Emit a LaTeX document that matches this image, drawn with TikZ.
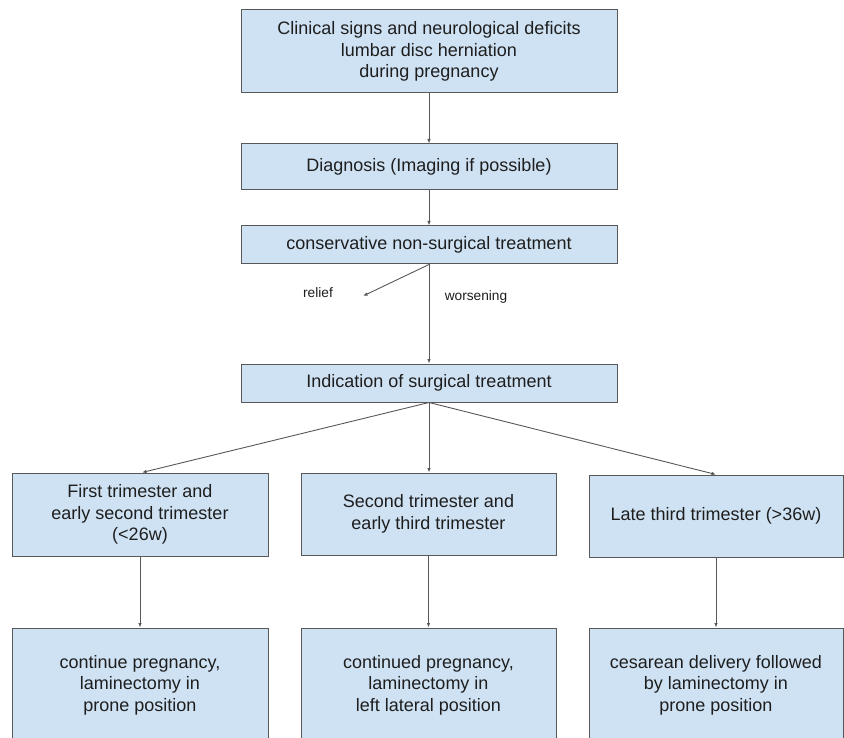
\documentclass[tikz,border=0pt]{standalone}
\usepackage{fontspec}
\setmainfont{Liberation Sans}
\usetikzlibrary{arrows.meta}
\definecolor{boxfill}{RGB}{207,226,243}
\definecolor{boxline}{RGB}{88,88,88}
\definecolor{txt}{RGB}{30,30,30}
\begin{document}
\begin{tikzpicture}[x=1pt,y=-1pt,
  box/.style={draw=boxline, line width=1pt, fill=boxfill, text=txt, align=center, inner sep=0pt,
    font=\fontsize{18}{21.5}\selectfont},
  arr/.style={draw=boxline, line width=0.9pt, -{Latex[length=4.5pt,width=3.5pt]}},
  lab/.style={text=txt, font=\fontsize{13.7}{16}\selectfont}]
\useasboundingbox (0,0) rectangle (844,738);
\fill[white] (0,0) rectangle (844,738);
\clip (0,0) rectangle (844,738);
\node[box, minimum width=376pt, minimum height=83pt] (top) at (429,51.5)
  {Clinical signs and neurological deficits\\lumbar disc herniation\\during pregnancy};
\node[box, minimum width=376pt, minimum height=46pt] (diag) at (429,167)
  {Diagnosis (Imaging if possible)};
\node[box, minimum width=376pt, minimum height=38pt] (cons) at (429,245)
  {conservative non-surgical treatment};
\node[box, minimum width=376pt, minimum height=38pt] (ind) at (429,383)
  {Indication of surgical treatment};
\node[box, minimum width=256pt, minimum height=83pt] (left) at (140,514.5)
  {First trimester and\\early second trimester\\(<26w)};
\node[box, minimum width=255pt, minimum height=82pt] (mid) at (428.5,514)
  {Second trimester and\\early third trimester};
\node[box, minimum width=254pt, minimum height=82pt] (right) at (716,516)
  {Late third trimester (>36w)};
\node[box, minimum width=256pt, minimum height=114pt] (lb) at (140,685)
  {continue pregnancy,\\laminectomy in\\prone position};
\node[box, minimum width=255pt, minimum height=114pt] (mb) at (428.5,685)
  {continued pregnancy,\\laminectomy in\\left lateral position};
\node[box, minimum width=254pt, minimum height=114pt] (rb) at (716,685)
  {cesarean delivery followed\\by laminectomy in\\prone position};
\coordinate (reliefend) at (363,296);
\node[lab] (relief) at (318,293) {relief};
\node[lab] (wors) at (476,297) {worsening};
\draw[arr] (top) -- (diag);
\draw[arr] (diag) -- (cons);
\draw[arr] (cons.south) -- (reliefend);
\draw[arr] (cons) -- (ind);
\draw[arr] (ind.south) -- ([xshift=2pt]left.north);
\draw[arr] (ind.south) -- (ind.south |- mid.north);
\draw[arr] (ind.south) -- (right.north);
\draw[arr] (left) -- (lb);
\draw[arr] (mid) -- (mb);
\draw[arr] (right) -- (rb);
\end{tikzpicture}
\end{document}
